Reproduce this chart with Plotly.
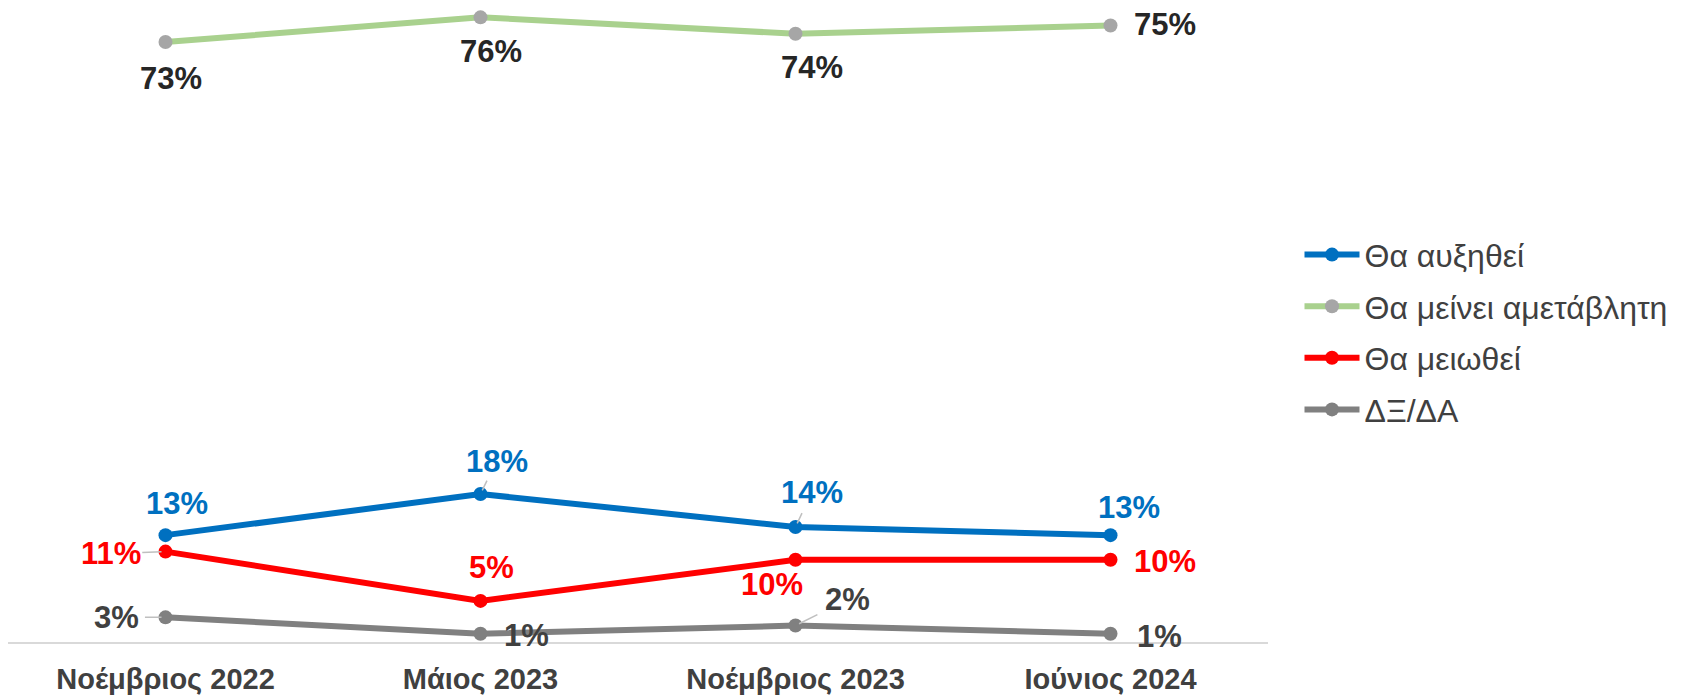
import plotly.graph_objects as go

categories = ["Νοέμβριος 2022", "Μάιος 2023", "Νοέμβριος 2023", "Ιούνιος 2024"]
series_names = ["Θα αυξηθεί", "Θα μείνει αμετάβλητη", "Θα μειωθεί", "ΔΞ/ΔΑ"]
increase = [13, 18, 14, 13]
unchanged = [73, 76, 74, 75]
decrease = [11, 5, 10, 10]
dkna = [3, 1, 2, 1]

series_values = [increase, unchanged, decrease, dkna]
line_colors = ["#0070C0", "#A9D18E", "#FF0000", "#808080"]
marker_colors = ["#0070C0", "#A6A6A6", "#FF0000", "#808080"]
label_colors = ["#0070C0", "#262626", "#FF0000", "#404040"]

# label offsets (xshift, yshift) in pixels, and whether a leader line is drawn
label_offsets = [
    [(11, 32, False), (16, 33, True), (16, 34, True), (18, 28, False)],
    [(5, -37, False), (10, -34, False), (16, -34, False), (54, 1, False)],
    [(-55, -2, True), (11, 33, False), (-24, -25, False), (54, -2, False)],
    [(-49, 0, True), (46, -2, False), (52, 26, True), (49, -3, False)],
]

FONT = "Liberation Sans, Arial, sans-serif"

fig = go.Figure()
for i, (name, vals) in enumerate(zip(series_names, series_values)):
    fig.add_trace(go.Scatter(
        x=categories, y=vals, name=name, mode="lines+markers",
        line=dict(color=line_colors[i], width=6),
        marker=dict(color=marker_colors[i], size=14),
        legendgroup=f"g{i}",
    ))
    for j, (c, v) in enumerate(zip(categories, vals)):
        dx, dy, leader = label_offsets[i][j]
        if leader:
            fig.add_annotation(
                x=c, y=v, text="", showarrow=True, arrowhead=0,
                arrowwidth=1.5, arrowcolor="#BFBFBF",
                ax=dx * 0.45, ay=-dy * 0.45, standoff=4,
            )
        fig.add_annotation(
            x=c, y=v, text=f"{v}%", showarrow=False,
            xshift=dx, yshift=dy,
            font=dict(family=FONT, size=31, color=label_colors[i], weight="bold"),
        )

fig.update_layout(
    width=1691, height=695,
    margin=dict(l=8, r=423, t=5, b=53),
    plot_bgcolor="white", paper_bgcolor="white",
    showlegend=True,
    legend=dict(
        x=1.025, y=0.651, xanchor="left", yanchor="top",
        font=dict(family=FONT, size=32, color="#404040"),
        itemwidth=55, tracegroupgap=7,
        bgcolor="rgba(0,0,0,0)",
    ),
    xaxis=dict(
        type="category", range=[-0.5, 3.5], automargin=False,
        showgrid=False, showline=True, linecolor="#D9D9D9", linewidth=2,
        ticks="", tickfont=dict(family=FONT, size=29, color="#404040", weight="bold"),
        ticklabelstandoff=10,
    ),
    yaxis=dict(
        range=[0, 77.5], showgrid=False, zeroline=False, showline=False,
        showticklabels=False, ticks="", automargin=False,
    ),
)

fig.write_html("out.html", config={"displayModeBar": False},
               post_script="document.body.style.margin='0';")
